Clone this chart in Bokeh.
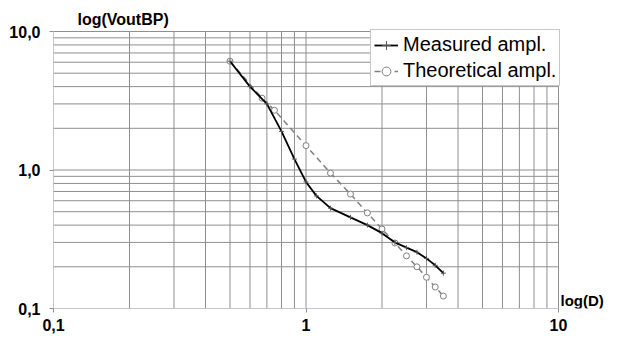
from bokeh.plotting import figure
from bokeh.models import Range1d, FixedTicker, Legend, LegendItem
from bokeh.core.properties import value
from bokeh.embed import file_html
from bokeh.resources import INLINE

# data
meas_x = [0.5, 0.6, 0.7, 0.8, 0.9, 1.0, 1.1, 1.25, 1.5, 1.75, 2.0, 2.25, 2.5, 2.75, 3.0, 3.25, 3.5]
meas_y = [6.1, 4.0, 3.0, 1.9, 1.2, 0.82, 0.65, 0.53, 0.455, 0.40, 0.35, 0.30, 0.275, 0.255, 0.23, 0.205, 0.18]
theo_x = [0.5, 0.67, 0.75, 1.0, 1.25, 1.5, 1.75, 2.0, 2.25, 2.5, 2.75, 3.0, 3.25, 3.5]
theo_y = [6.1, 3.3, 2.7, 1.5, 0.95, 0.67, 0.49, 0.375, 0.297, 0.24, 0.2, 0.168, 0.143, 0.123]

major_ticks = [0.1, 1, 10]
minor_ticks = [0.2, 0.3, 0.4, 0.5, 0.6, 0.7, 0.8, 0.9, 2, 3, 4, 5, 6, 7, 8, 9]
x_tick_labels = {0.1: "0,1", 1: "1", 10: "10"}
y_tick_labels = {0.1: "0,1", 1: "1,0", 10: "10,0"}
y_title = "log(VoutBP)"
x_title = "log(D)"
series_names = ["Measured ampl.", "Theoretical ampl."]

# layout (pixels)
W, H = 605, 334
GL, GR, GT, GB = 53, 558, 31, 308      # grid box edges
decx = (GR - GL) / 2.0
decy = (GB - GT) / 2.0
lo, hi = 0.1, 10.0

def px_x(px):
    return 10 ** (-1 + (px - GL) / decx)

def px_y(py):
    return 10 ** (-1 + (GB - py) / decy)

FONT = "Liberation Sans"
GRID = "#8f8f8f"

p = figure(width=W, height=H, x_axis_type="log", y_axis_type="log",
           x_range=Range1d(lo, px_x(W)), y_range=Range1d(lo, px_y(0)),
           output_backend="svg", toolbar_location=None, title=None,
           min_border_left=GL, min_border_right=0, min_border_top=0, min_border_bottom=H - GB)
p.background_fill_color = "white"
p.border_fill_color = "white"
p.outline_line_color = None
p.xgrid.visible = False
p.ygrid.visible = False

for ax, labels in ((p.xaxis, x_tick_labels), (p.yaxis, y_tick_labels)):
    ax.ticker = FixedTicker(ticks=major_ticks, minor_ticks=[])
    ax.major_label_overrides = labels
    ax.major_label_text_font = FONT
    ax.major_label_text_font_style = "bold"
    ax.major_label_text_font_size = "16px"
    ax.major_label_text_color = "black"
    ax.axis_line_color = None
    ax.major_tick_line_color = GRID
    ax.major_tick_out = 4
    ax.major_tick_in = 0
    ax.minor_tick_line_color = None
p.xaxis.major_label_standoff = 6
p.yaxis.major_label_standoff = 9

# grid box (lines at every major and minor decade position)
all_ticks = sorted(major_ticks + minor_ticks)
p.segment(x0=all_ticks, y0=[lo] * len(all_ticks), x1=all_ticks, y1=[hi] * len(all_ticks),
          line_color=GRID, line_width=1)
p.segment(x0=[lo] * len(all_ticks), y0=all_ticks, x1=[hi] * len(all_ticks), y1=all_ticks,
          line_color=GRID, line_width=1)

r_theo_line = p.line(theo_x, theo_y, line_color="#808080", line_width=1.5, line_dash="6 4")
r_theo_pts = p.scatter(theo_x, theo_y, marker="circle", size=6, line_color="#808080",
                       fill_color="white", line_width=1)
r_meas_line = p.line(meas_x, meas_y, line_color="black", line_width=1.8)
r_meas_pts = p.scatter(meas_x, meas_y, marker="cross", size=5, line_color="#555555", line_width=1)

legend = Legend(items=[
    LegendItem(label=series_names[0], renderers=[r_meas_line, r_meas_pts]),
    LegendItem(label=series_names[1], renderers=[r_theo_line, r_theo_pts]),
], location=(GR - 188 - GL, GB - 86))
legend.label_text_font = FONT
legend.label_text_font_size = "20px"
legend.label_text_color = "black"
legend.glyph_width = 24
legend.label_standoff = 5
legend.label_height = 22
legend.glyph_height = 22
legend.padding = 3
legend.spacing = 3
legend.margin = 0
legend.border_line_color = GRID
legend.background_fill_alpha = 1
p.add_layout(legend)

p.text(x=[px_x(77)], y=[px_y(18.5)], text=[y_title], text_font=value(FONT),
       text_font_style="bold", text_font_size="16px", text_align="left", text_baseline="middle",
       text_color="black")
p.text(x=[px_x(560)], y=[px_y(300)], text=[x_title], text_font=value(FONT),
       text_font_style="bold", text_font_size="15px", text_align="left", text_baseline="middle",
       text_color="black")

open("out.html", "w").write(file_html(p, INLINE))
